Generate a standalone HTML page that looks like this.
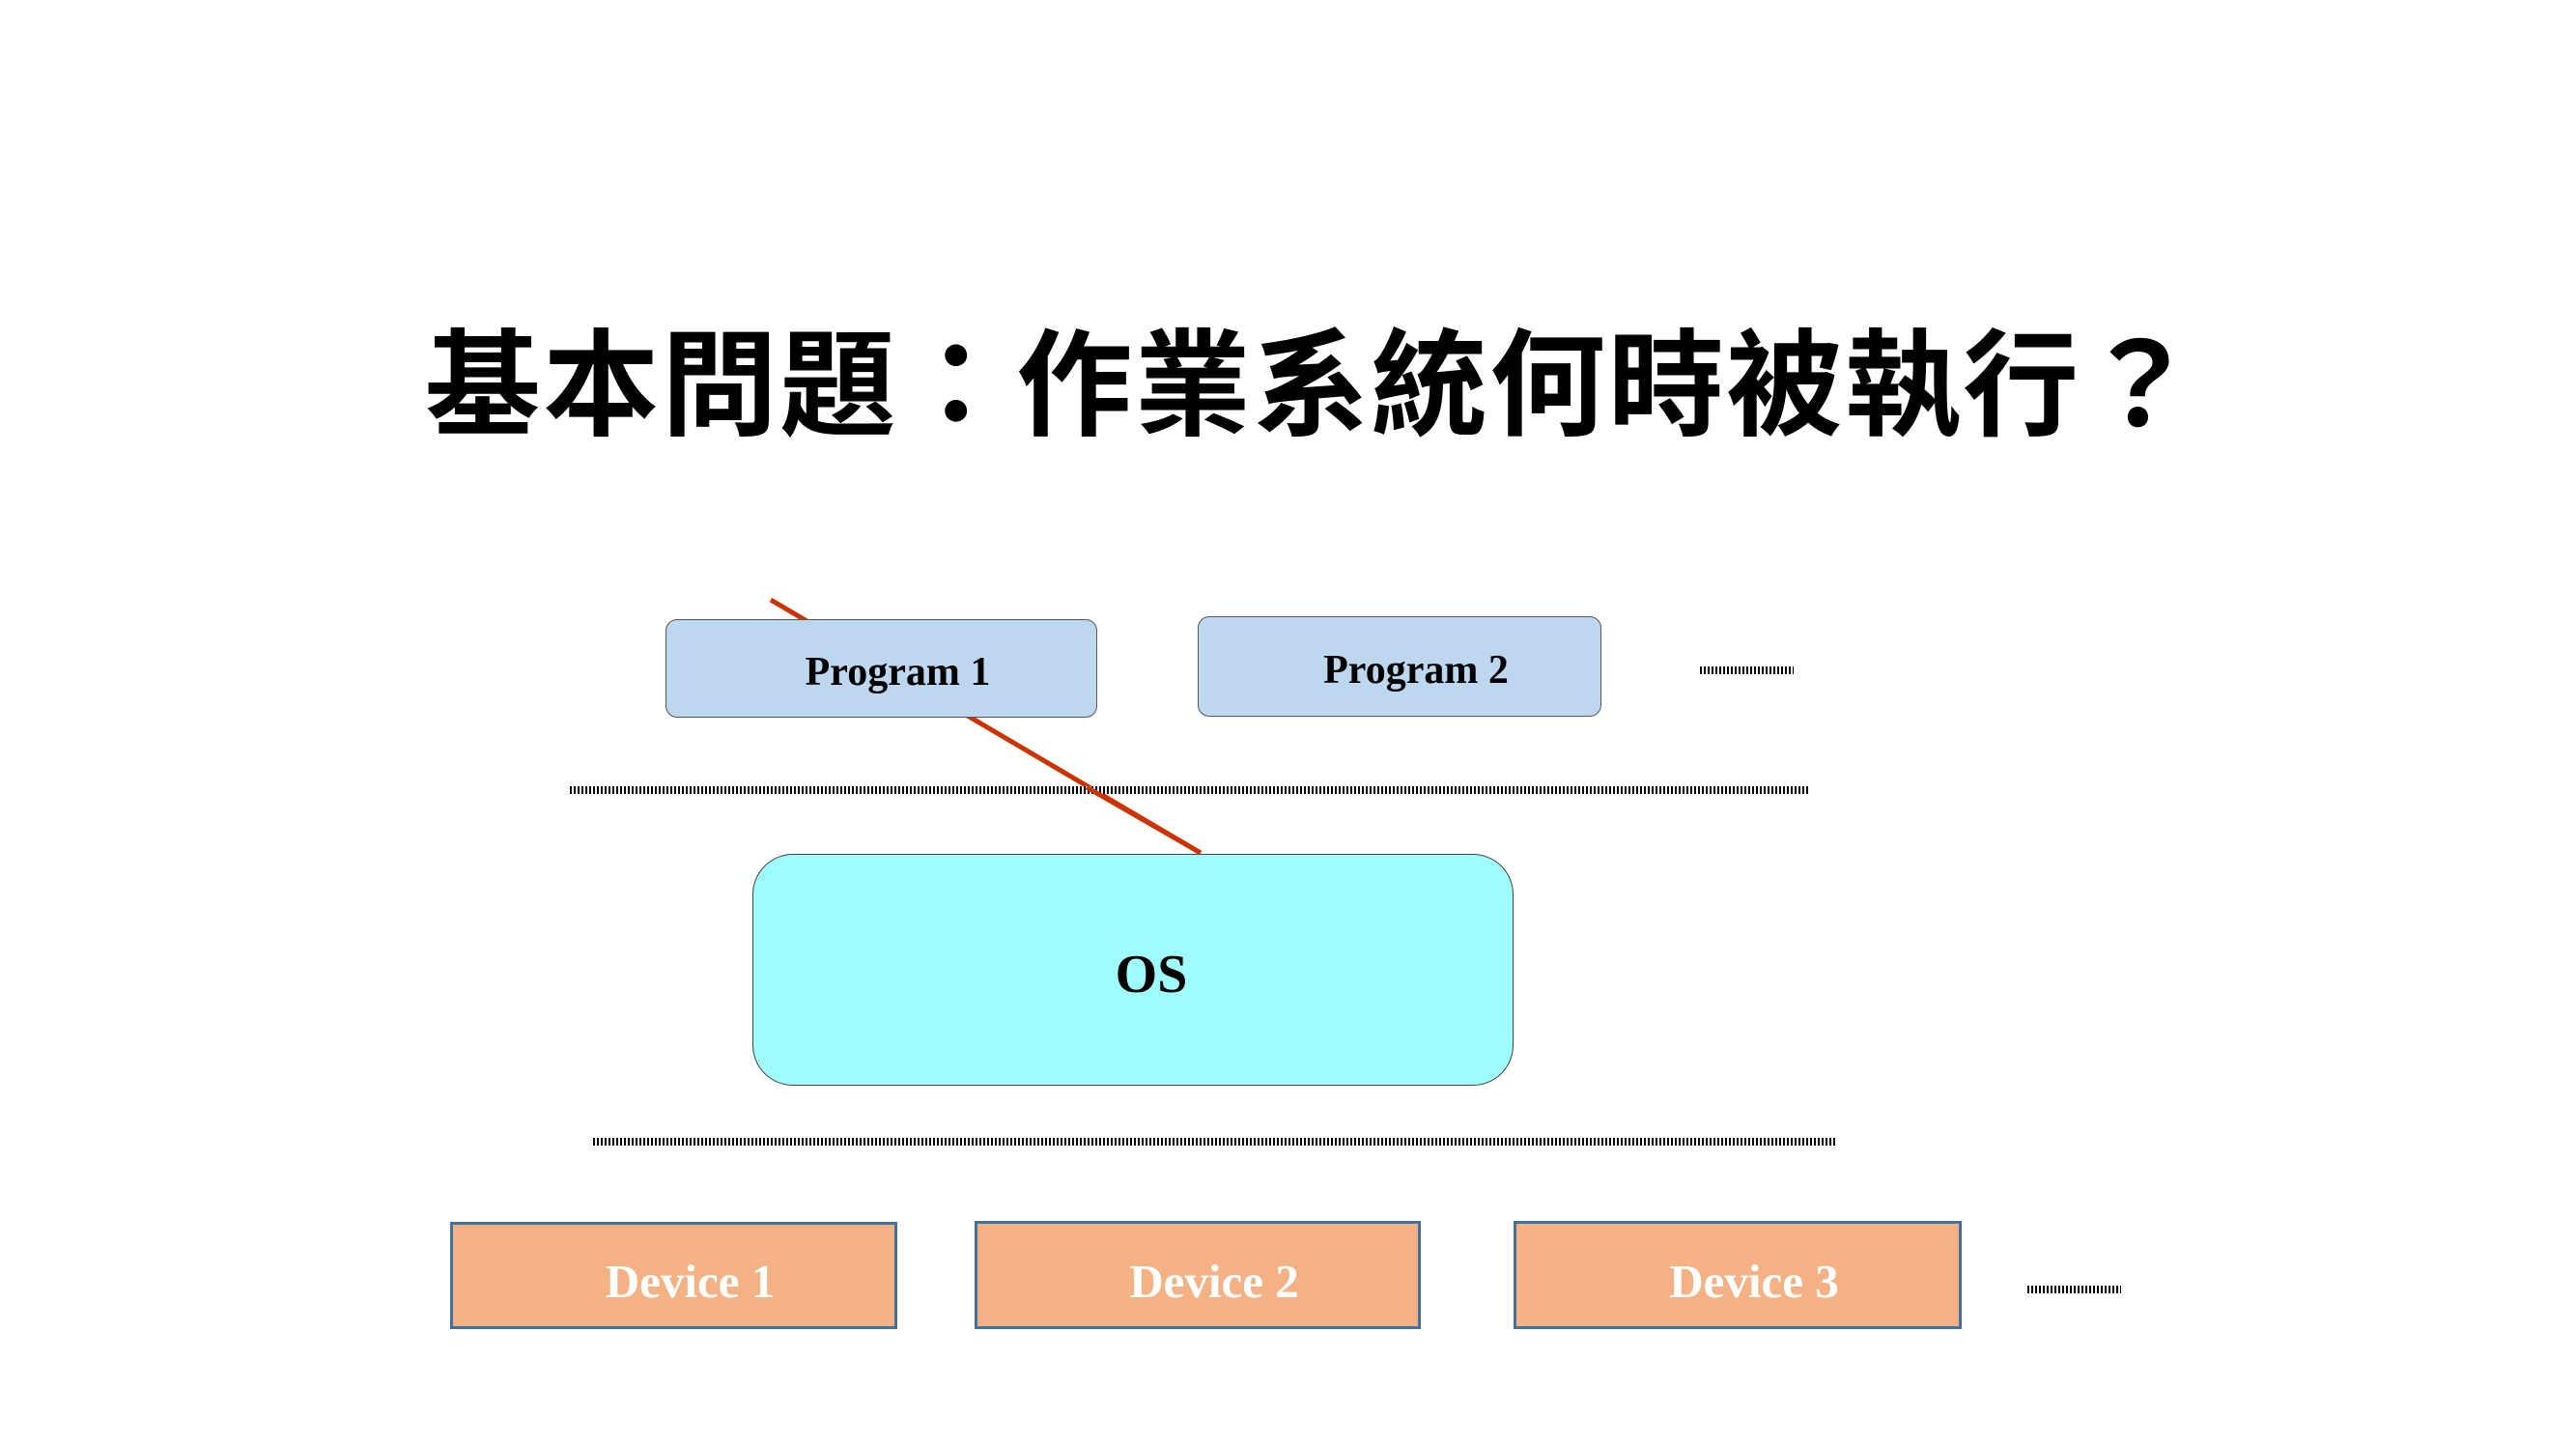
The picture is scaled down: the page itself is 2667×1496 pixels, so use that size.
<!DOCTYPE html>
<html><head><meta charset="utf-8"><style>
body{margin:0;width:2667px;height:1496px;background:#fff;position:relative;overflow:hidden}
.a{position:absolute;box-sizing:border-box;display:flex;align-items:center;justify-content:center;font-family:"Liberation Serif",serif;font-weight:bold}
.dot{position:absolute;height:8px;background:repeating-linear-gradient(90deg,#000 0 2px,#fff 2px 4px)}
.prog{background:#bdd7ee;border:1.5px solid #555;border-radius:12px;font-size:42px;color:#000;padding-left:34px;padding-top:8px}
.dev{background:#f4b183;border:3px solid #41719c;font-size:49px;color:#fff;padding-left:34px;padding-top:12px}
</style></head><body>
<svg style="position:absolute;left:0;top:0" width="2667" height="1496"><line x1="798" y1="621" x2="1243" y2="883" stroke="#cc3300" stroke-width="5"/></svg>
<div class="a" style="left:25px;top:314px;width:2667px;height:150px;font-family:'Liberation Sans','Noto Sans CJK TC',sans-serif;font-size:120px;font-weight:bold;color:#000;letter-spacing:2.5px">基本問題：作業系統何時被執行？</div>
<div class="a prog" style="left:689px;top:641px;width:447px;height:102px">Program 1</div>
<div class="a prog" style="left:1240px;top:638px;width:418px;height:104px">Program 2</div>
<div class="dot" style="left:1760px;top:690px;width:97px"></div>
<div class="dot" style="left:590px;top:814px;width:1284px"></div>
<div class="a" style="left:779px;top:884px;width:788px;height:240px;background:#9ffcfd;border:1.5px solid #444;border-radius:42px;font-size:56px;color:#000;padding-left:38px;padding-top:10px">OS</div>
<svg style="position:absolute;left:0;top:0" width="2667" height="1496"><line x1="1125" y1="815" x2="1243" y2="883" stroke="#cc3300" stroke-width="5"/></svg>
<div class="dot" style="left:614px;top:1178px;width:1286px"></div>
<div class="a dev" style="left:466px;top:1265px;width:463px;height:111px">Device 1</div>
<div class="a dev" style="left:1009px;top:1264px;width:462px;height:112px">Device 2</div>
<div class="a dev" style="left:1567px;top:1264px;width:464px;height:112px">Device 3</div>
<div class="dot" style="left:2099px;top:1331px;width:97px"></div>
</body></html>
